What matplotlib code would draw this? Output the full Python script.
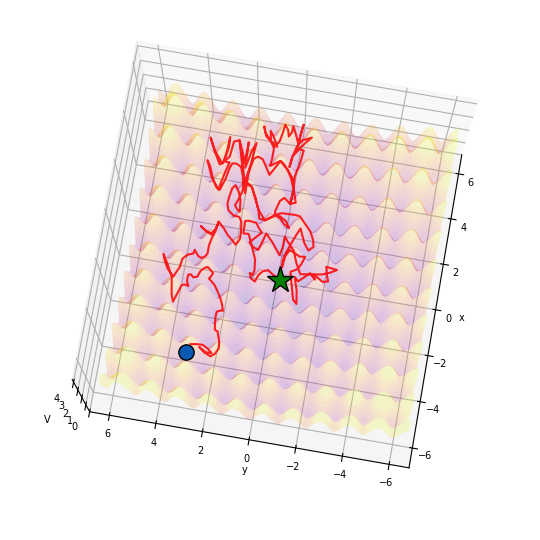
import numpy as np
import matplotlib
matplotlib.use('Agg')
import matplotlib.pyplot as plt
from mpl_toolkits.mplot3d import Axes3D

# ripple height along one axis, in steps of 0.115 from the centre
profile_half = [0, .14, .44, .79, 1.07, 1.17, 1.09, .83, .49, .19,
                .05, .20, .51, .86, 1.14, 1.24, 1.17, .93, .61, .33,
                .17, .33, .65, 1.01, 1.29, 1.40, 1.34, 1.12, .81, .53,
                .36, .52, .86, 1.23, 1.52, 1.64, 1.59, 1.38, 1.07, .79,
                .60, .78, 1.12, 1.51, 1.81, 1.94, 1.90, 1.70, 1.39, 1.11,
                .88, 1.07, 1.41, 1.81, 2.11, 2.24, 2.18, 1.98]

# path on the surface, x = steps * 0.05 - 7, same for y
traj_x_steps = [56, 59, 68, 68, 55, 58, 59, 58, 54, 54, 57, 70, 75, 76, 78, 90, 97, 99, 98, 97,
                100, 104, 120, 121, 121, 121, 122, 125, 125, 125, 124, 123, 122, 123, 124, 123, 120, 118, 117, 109,
                102, 95, 98, 111, 125, 138, 128, 123, 117, 120, 122, 127, 140, 144, 146, 144, 131, 141, 142, 145,
                148, 162, 166, 168, 164, 151, 158, 168, 166, 150, 164, 168, 168, 167, 153, 148, 151, 165, 169, 171,
                187, 187, 189, 192, 198, 210, 195, 191, 186, 189, 191, 192, 193, 195, 196, 196, 194, 191, 188, 173,
                173, 185, 187, 187, 174, 189, 188, 186, 173, 191, 196, 209, 194, 213, 217, 218, 216, 213, 198, 191,
                192, 212, 216, 215, 196, 191, 194, 210, 215, 214, 214, 221, 235, 218, 213, 213, 227, 236, 224, 213,
                217, 235, 238, 235, 217, 235, 237, 231, 215, 220, 235, 215, 209, 232, 238, 217, 192, 212, 217, 220,
                229, 220, 216, 216, 218, 218, 218, 217, 213, 196, 213, 218, 235, 238, 240, 236, 221, 236, 241, 252,
                240, 240, 239, 257, 261, 257, 242, 256, 257, 244, 240, 242, 252, 240, 238, 238, 241, 242, 244, 241,
                241, 237, 253, 256, 241, 238, 235, 230, 218, 218, 218, 217, 212, 194, 196, 197, 193, 188, 185, 190,
                192, 189, 187, 182, 182, 171, 168, 167, 168, 171, 168, 166, 156, 149, 146, 150, 161, 149, 150, 163,
                148, 144, 141, 124, 120, 120, 125, 139, 139, 144, 145, 129, 143, 139, 133, 143, 145, 147, 149, 148,
                147, 143, 144, 144, 146, 150, 167, 171, 167, 157, 164, 167, 165, 161, 164, 164, 169, 169, 172, 176,
                172, 170, 165, 167, 165, 158, 147, 143, 131, 142, 128, 124, 126, 129, 141, 142, 131]
traj_y_steps = [196, 192, 190, 186, 179, 185, 190, 186, 180, 176, 173, 176, 178, 178, 181, 184, 185, 184, 180, 178,
                179, 181, 188, 190, 192, 194, 193, 191, 193, 195, 197, 201, 204, 208, 210, 212, 213, 212, 214, 214,
                215, 219, 220, 222, 229, 236, 232, 229, 223, 220, 218, 216, 216, 212, 211, 208, 201, 201, 199, 198,
                196, 196, 195, 194, 196, 196, 202, 210, 206, 196, 196, 194, 190, 187, 180, 176, 173, 175, 175, 177,
                186, 190, 191, 190, 188, 188, 182, 180, 180, 183, 185, 182, 179, 177, 174, 171, 168, 165, 164, 156,
                152, 150, 146, 142, 136, 141, 146, 149, 156, 165, 171, 180, 178, 182, 184, 188, 191, 193, 193, 197,
                200, 209, 212, 210, 203, 198, 196, 196, 193, 195, 197, 194, 196, 195, 198, 201, 208, 213, 207, 199,
                193, 193, 189, 186, 181, 182, 181, 182, 180, 175, 174, 175, 180, 186, 189, 183, 176, 177, 173, 170,
                168, 163, 160, 156, 151, 148, 144, 140, 139, 139, 139, 139, 137, 135, 139, 144, 144, 144, 141, 138,
                129, 134, 141, 141, 139, 141, 140, 145, 147, 146, 148, 149, 153, 153, 155, 159, 163, 168, 169, 167,
                163, 157, 163, 166, 163, 160, 161, 162, 156, 151, 145, 142, 138, 134, 139, 144, 147, 150, 150, 145,
                140, 133, 129, 123, 119, 115, 114, 118, 122, 126, 129, 132, 135, 137, 137, 135, 133, 127, 123, 120,
                121, 124, 129, 125, 123, 120, 121, 125, 122, 118, 113, 107, 110, 105, 101, 97, 99, 100, 95, 91,
                96, 102, 112, 121, 125, 128, 135, 139, 140, 141, 148, 154, 157, 160, 165, 168, 163, 158, 161, 164,
                169, 172, 173, 169, 167, 164, 160, 160, 159, 164, 160, 156, 153, 150, 148, 144, 136]
start_steps = (52, 199)
end_steps = (131, 136)

ticks_xy = [-6, -4, -2, 0, 2, 4, 6]
ticks_v = [0, 1, 2, 3, 4]

profile = np.array(profile_half[:0:-1] + profile_half)
grid = 0.115 * np.arange(-57, 58)
x_keep = np.arange(0, 110)
y_keep = np.arange(2, 110)
X, Y = np.meshgrid(grid[x_keep], grid[y_keep], indexing='ij')
V = profile[x_keep][:, None] + profile[y_keep][None, :]


def height(x, y):
    # height of the surface under a point of the path
    return np.interp(x, grid, profile) + np.interp(y, grid, profile)


traj_x = np.array(traj_x_steps) * 0.05 - 7
traj_y = np.array(traj_y_steps) * 0.05 - 7
start_x, start_y = start_steps[0] * 0.05 - 7, start_steps[1] * 0.05 - 7
end_x, end_y = end_steps[0] * 0.05 - 7, end_steps[1] * 0.05 - 7

fig = plt.figure(figsize=(5.4, 5.4), dpi=100)
ax = fig.add_axes([.0178, .0205, .965, .965], projection='3d')
ax.computed_zorder = False
ax.plot_surface(X, Y, V, cmap='plasma', vmin=0, vmax=3.3, alpha=0.22, shade=False,
                linewidth=0, rstride=1, cstride=1, zorder=1)
ax.plot(traj_x, traj_y, height(traj_x, traj_y), color='red', lw=1.5, alpha=0.85, zorder=5)
ax.plot([start_x], [start_y], [height(start_x, start_y)], 'o', ms=11, mfc='#0a5ab4', mec='k', zorder=6)
ax.plot([end_x], [end_y], [height(end_x, end_y)], '*', ms=20, mfc='green', mec='k', zorder=6)

ax.set_xlim(-6.85, 6.85)
ax.set_ylim(-6.85, 6.85)
ax.set_zlim(0, 4.3)
ax.set_xticks(ticks_xy)
ax.set_yticks(ticks_xy)
ax.set_zticks(ticks_v)
ax.tick_params(labelsize=7, pad=0)
ax.set_xlabel('x', fontsize=7, labelpad=-4)
ax.set_ylabel('y', fontsize=7, labelpad=-4)
ax.set_zlabel('V', fontsize=7, labelpad=-4)
ax.view_init(elev=80, azim=190)
fig.savefig('out.png', dpi=100)
